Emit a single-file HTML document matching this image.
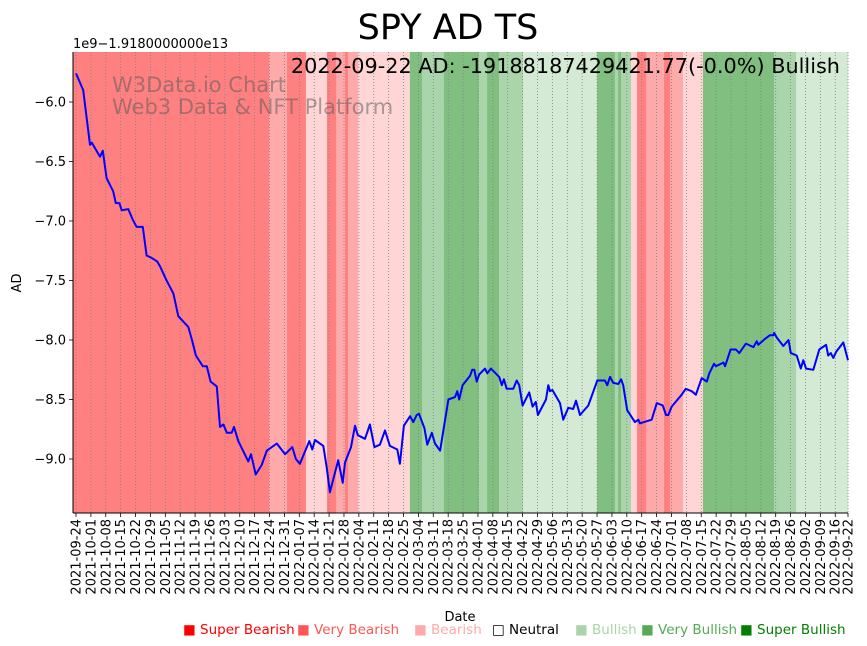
<!DOCTYPE html>
<html><head><meta charset="utf-8"><style>
html,body{margin:0;padding:0;background:#fff;}
svg{display:block;font-family:"DejaVu Sans","Liberation Sans",sans-serif;}
</style></head><body>
<svg id="chart" width="867" height="646" viewBox="0 0 867 646">
<text x="448" y="39" font-size="35" text-anchor="middle">SPY AD TS</text>
<text x="73" y="48" font-size="13">1e9−1.9180000000e13</text>
<g id="bands"></g>
<g id="grid"></g>
<g id="wm">
<text x="112" y="92" font-size="21" fill="#555555" fill-opacity="0.5">W3Data.io Chart</text>
<text x="112" y="114" font-size="21" fill="#555555" fill-opacity="0.5">Web3 Data &amp; NFT Platform</text>
</g>
<text x="840" y="73" font-size="20.8" text-anchor="end">2022-09-22 AD: -19188187429421.77(-0.0%) Bullish</text>
<g id="line"></g>
<g id="axes"></g>
<text x="460" y="621" font-size="13" text-anchor="middle">Date</text>
<text x="0" y="0" font-size="13" text-anchor="middle" transform="translate(21,283) rotate(-90)">AD</text>
<g id="legend" font-size="13.5"></g>
</svg>
<script>
const dayOffsets=[0,3.4,6.6,7.4,11.3,12.6,14.4,17.5,18.7,20.4,21.5,24.6,26.7,28.5,31.4,33.2,35.6,38.2,39.5,42.3,45.8,48.1,52.8,54.7,56.4,59.6,61.5,63.3,66.2,67.7,69.3,70.9,73.2,74.3,76.3,81.0,82.3,84.5,87.3,89.7,94.4,98.3,101.7,103.4,105.3,109.7,111.1,112.4,116.3,117.9,119.4,123.3,125.4,126.5,129.3,131.2,132.5,135.9,138.2,140.3,142.9,145.3,147.6,151.1,152.3,154.2,157.1,158.6,160.2,161.3,163.8,165.2,167.3,168.8,171.2,175.1,178.2,179.3,180.2,181.8,185.3,186.3,187.3,188.4,189.6,192.3,193.4,195.1,199.0,200.2,201.2,202.5,205.6,207.2,208.4,210.0,213.1,214.7,216.2,217.2,221.0,222.1,222.9,224.0,227.6,229.1,231.5,233.8,235.1,237.0,240.9,245.1,248.7,249.8,251.1,252.6,255.0,256.3,257.3,259.2,262.8,264.4,265.2,270.7,273.1,275.9,277.4,278.5,280.1,284.8,286.7,289.5,291.5,294.2,296.6,297.8,300.0,300.9,304.4,305.2,307.8,310.3,311.9,315.0,318.5,320.1,320.8,324.0,326.3,327.9,328.3,329.5,332.6,335.0,336.1,338.9,340.8,342.0,343.3,346.7,349.5,352.7,353.7,354.9,356.1,357.4,360.8,363];
const adValues=[-5.76,-5.90,-6.36,-6.34,-6.46,-6.41,-6.64,-6.75,-6.85,-6.85,-6.91,-6.90,-6.99,-7.05,-7.05,-7.29,-7.31,-7.34,-7.38,-7.49,-7.61,-7.80,-7.89,-8.01,-8.13,-8.22,-8.22,-8.35,-8.39,-8.73,-8.71,-8.78,-8.78,-8.73,-8.85,-9.02,-8.96,-9.13,-9.05,-8.93,-8.87,-8.96,-8.90,-9.00,-9.04,-8.85,-8.92,-8.84,-8.89,-9.07,-9.28,-9.01,-9.20,-9.03,-8.90,-8.72,-8.80,-8.83,-8.71,-8.90,-8.88,-8.76,-8.89,-8.92,-9.04,-8.72,-8.64,-8.69,-8.63,-8.62,-8.74,-8.88,-8.78,-8.87,-8.93,-8.50,-8.48,-8.43,-8.50,-8.38,-8.30,-8.25,-8.25,-8.35,-8.29,-8.24,-8.28,-8.24,-8.31,-8.38,-8.33,-8.41,-8.41,-8.34,-8.38,-8.55,-8.44,-8.56,-8.52,-8.63,-8.50,-8.38,-8.43,-8.42,-8.53,-8.67,-8.57,-8.58,-8.51,-8.63,-8.55,-8.34,-8.34,-8.38,-8.31,-8.36,-8.37,-8.33,-8.38,-8.59,-8.69,-8.67,-8.70,-8.67,-8.53,-8.55,-8.63,-8.63,-8.56,-8.46,-8.41,-8.43,-8.46,-8.32,-8.35,-8.28,-8.20,-8.22,-8.19,-8.22,-8.08,-8.08,-8.11,-8.03,-8.06,-8.01,-8.04,-7.99,-7.96,-7.96,-7.94,-7.98,-8.05,-8.00,-8.11,-8.13,-8.24,-8.17,-8.24,-8.25,-8.08,-8.04,-8.13,-8.11,-8.15,-8.10,-8.02,-8.17];
const bandStarts=[-1.4,90.8,99.2,108.1,118.0,122.3,126.5,127.9,132.6,157.0,162.7,173.0,189.5,193.3,198.9,210.2,245.0,253.4,254.9,256.3,261.0,263.8,268.1,276.5,279.4,285.4,294.8,328.2,338.6];
const bandLevels=[-3,-2,-3,-1,-3,-2,-3,-2,-1,3,2,3,2,3,2,1,3,2,3,2,-1,-3,-2,-3,-2,-1,3,2,1];
const yTicks=[-6.0,-6.5,-7.0,-7.5,-8.0,-8.5,-9.0];
const tickLabels=["2021-09-24","2021-10-01","2021-10-08","2021-10-15","2021-10-22","2021-10-29","2021-11-05","2021-11-12","2021-11-19","2021-11-26","2021-12-03","2021-12-10","2021-12-17","2021-12-24","2021-12-31","2022-01-07","2022-01-14","2022-01-21","2022-01-28","2022-02-04","2022-02-11","2022-02-18","2022-02-25","2022-03-04","2022-03-11","2022-03-18","2022-03-25","2022-04-01","2022-04-08","2022-04-15","2022-04-22","2022-04-29","2022-05-06","2022-05-13","2022-05-20","2022-05-27","2022-06-03","2022-06-10","2022-06-17","2022-06-24","2022-07-01","2022-07-08","2022-07-15","2022-07-22","2022-07-29","2022-08-05","2022-08-12","2022-08-19","2022-08-26","2022-09-02","2022-09-09","2022-09-16","2022-09-22"];
const legendNames=["Super Bearish","Very Bearish","Bearish","Neutral","Bullish","Very Bullish","Super Bullish"];

const NS="http://www.w3.org/2000/svg";
const L=73,R=848,T=52,B=513,END=363;
const x0=76,pxPerDay=(848-76)/363;
function xs(d){return x0+d*pxPerDay;}
function ys(v){return 102+(-6-v)*119;}
function mk(tag,attrs,parent){const e=document.createElementNS(NS,tag);for(const k in attrs)e.setAttribute(k,attrs[k]);parent.appendChild(e);return e;}
const bandFill={"-3":"#ff8080","-2":"#ffaaaa","-1":"#ffd5d5","1":"#d4ead4","2":"#aad4aa","3":"#80bf80"};
const bandsG=document.getElementById('bands');
for(let i=0;i<bandStarts.length;i++){
  const a=Math.max(L,xs(bandStarts[i]));
  const b=i+1<bandStarts.length?xs(bandStarts[i+1]):R;
  const r=mk('rect',{x:a,y:T,width:Math.max(0,b-a)+0.3,height:B-T,fill:bandFill[bandLevels[i]]},bandsG);
  
  
}
const gridG=document.getElementById('grid');
const axesG=document.getElementById('axes');
tickLabels.forEach((lab,i)=>{
  const d=i<tickLabels.length-1?i*7:END;
  const x=xs(d);
  const g=mk('line',{x1:x,x2:x,y1:T,y2:B,stroke:'#808080','stroke-width':0.8,'stroke-dasharray':'1,2'},gridG);
  
  
  mk('line',{x1:x,x2:x,y1:B,y2:B+4,stroke:'#000','stroke-width':0.8},axesG);
  const t=mk('text',{x:0,y:0,'font-size':13,'text-anchor':'end',transform:`translate(${x+4.5},${B+6}) rotate(-90)`},axesG);
  t.textContent=lab;
  
  
});
yTicks.forEach(v=>{
  const y=ys(v);
  mk('line',{x1:L-4,x2:L,y1:y,y2:y,stroke:'#000','stroke-width':0.8},axesG);
  const t=mk('text',{x:L-7,y:y+4.5,'font-size':13,'text-anchor':'end'},axesG);
  t.textContent=v.toFixed(1).replace('-','−');
  
  
});
mk('line',{x1:L,x2:L,y1:T,y2:B,stroke:'#000','stroke-width':1},axesG);
mk('line',{x1:L,x2:R,y1:B,y2:B,stroke:'#000','stroke-width':1},axesG);
const pts=dayOffsets.map((d,i)=>Math.max(L,xs(d)).toFixed(1)+','+ys(adValues[i]).toFixed(1)).join(' ');
const pl=mk('polyline',{points:pts,fill:'none',stroke:'#0000ff','stroke-width':2,'stroke-linejoin':'round'},document.getElementById('line'));


const legendColors=["#ff0000","#ff5555","#ffaaaa","#000000","#aad4aa","#55aa55","#008000"];
const legendX=[183,297,414,492,575,641,740];
const lg=document.getElementById('legend');
legendNames.forEach((n,i)=>{
  const t=mk('text',{x:legendX[i],y:634,fill:legendColors[i]},lg);
  t.textContent=(i===3?'□ ':'■ ')+n;
  
  
});
</script>
</body></html>
